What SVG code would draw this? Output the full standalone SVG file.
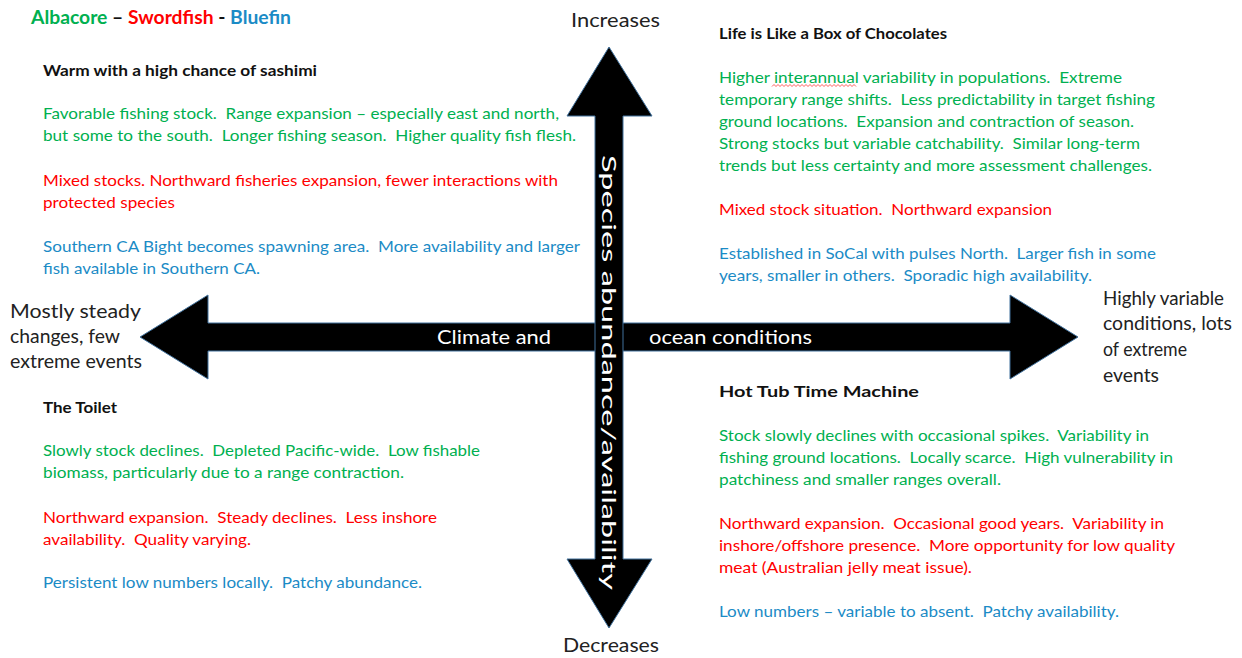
<svg xmlns="http://www.w3.org/2000/svg" width="1242" height="658" viewBox="0 0 1242 658">
  <style>
    text { font-family: Lato, "Liberation Sans", sans-serif; white-space: pre; }
    .body { font-size: 16px; }
    .head { font-size: 16px; font-weight: bold; fill: #111; }
    .g { fill: #00b050; }
    .r { fill: #ff0000; }
    .b { fill: #1b8bc6; }
    .axis { font-size: 19.5px; fill: #222; }
    .inner { font-size: 19.5px; fill: #fff; }
    .arrow { fill: #000; stroke: #41719c; stroke-width: 1; stroke-linejoin: miter; }
  </style>

  <rect width="1242" height="658" fill="#fff"/>

  <!-- legend: species colour key -->
  <g id="legend">
    <text x="31" y="24" font-size="18" font-weight="bold" textLength="260" lengthAdjust="spacingAndGlyphs"><tspan class="g">Albacore</tspan><tspan fill="#111"> – </tspan><tspan class="r">Swordfish</tspan><tspan fill="#111"> - </tspan><tspan class="b">Bluefin</tspan></text>
  </g>

  <!-- the two double-headed axis arrows -->
  <g id="axes">
    <polygon class="arrow" points="140,337 208,295 208,323 1010,323 1010,295 1078,337 1010,379 1010,351 208,351 208,379"/>
    <polygon class="arrow" points="609,47 652,116 623,116 623,559 652,559 609,628 567,559 595,559 595,116 567,116"/>
    <text class="inner" x="437" y="344" textLength="114" lengthAdjust="spacingAndGlyphs">Climate and</text>
    <text class="inner" x="649" y="344" textLength="163" lengthAdjust="spacingAndGlyphs">ocean conditions</text>
    <text class="inner" transform="translate(602,155) rotate(90)" x="0" y="0" textLength="435" lengthAdjust="spacingAndGlyphs">Species abundance/availability</text>
  </g>

  <!-- axis end labels -->
  <g id="label-increases">
    <text class="axis" x="571" y="27" textLength="89" lengthAdjust="spacingAndGlyphs">Increases</text>
  </g>
  <g id="label-decreases">
    <text class="axis" x="563" y="652" textLength="96" lengthAdjust="spacingAndGlyphs">Decreases</text>
  </g>
  <g id="label-steady">
    <text class="axis" x="10" y="318" textLength="131" lengthAdjust="spacingAndGlyphs">Mostly steady</text>
    <text class="axis" x="10" y="343" textLength="110" lengthAdjust="spacingAndGlyphs">changes, few</text>
    <text class="axis" x="10" y="368" textLength="132" lengthAdjust="spacingAndGlyphs">extreme events</text>
  </g>
  <g id="label-variable">
    <text class="axis" x="1103" y="305" textLength="121" lengthAdjust="spacingAndGlyphs">Highly variable</text>
    <text class="axis" x="1103" y="330" textLength="129" lengthAdjust="spacingAndGlyphs">conditions, lots</text>
    <text class="axis" x="1103" y="356" textLength="84" lengthAdjust="spacingAndGlyphs">of extreme</text>
    <text class="axis" x="1103" y="382" textLength="56" lengthAdjust="spacingAndGlyphs">events</text>
  </g>

  <!-- upper-left scenario -->
  <g id="scenario-sashimi">
    <text class="head" x="43" y="76" textLength="274" lengthAdjust="spacingAndGlyphs">Warm with a high chance of sashimi</text>
    <text class="body g" x="43" y="119" textLength="516" lengthAdjust="spacingAndGlyphs">Favorable fishing stock.  Range expansion – especially east and north,</text>
    <text class="body g" x="43" y="141" textLength="533" lengthAdjust="spacingAndGlyphs">but some to the south.  Longer fishing season.  Higher quality fish flesh.</text>
    <text class="body r" x="43" y="186" textLength="515" lengthAdjust="spacingAndGlyphs">Mixed stocks. Northward fisheries expansion, fewer interactions with</text>
    <text class="body r" x="43" y="208" textLength="132" lengthAdjust="spacingAndGlyphs">protected species</text>
    <text class="body b" x="43" y="252" textLength="537" lengthAdjust="spacingAndGlyphs">Southern CA Bight becomes spawning area.  More availability and larger</text>
    <text class="body b" x="43" y="274" textLength="217" lengthAdjust="spacingAndGlyphs">fish available in Southern CA.</text>
  </g>

  <!-- upper-right scenario -->
  <g id="scenario-chocolates">
    <text class="head" x="719" y="39" textLength="228" lengthAdjust="spacingAndGlyphs">Life is Like a Box of Chocolates</text>
    <text class="body g" x="719" y="83" textLength="403" lengthAdjust="spacingAndGlyphs">Higher interannual variability in populations.  Extreme</text>
    <path d="M772,86.5 l2,-2 l2,2 l2,-2 l2,2 l2,-2 l2,2 l2,-2 l2,2 l2,-2 l2,2 l2,-2 l2,2 l2,-2 l2,2 l2,-2 l2,2 l2,-2 l2,2 l2,-2 l2,2 l2,-2 l2,2 l2,-2 l2,2 l2,-2 l2,2 l2,-2 l2,2 l2,-2 l2,2 l2,-2 l2,2 l2,-2 l2,2 l2,-2 l2,2 l2,-2 l2,2 l2,-2 l2,2 l2,-2 l2,2" fill="none" stroke="#ff3333" stroke-width="0.8"/>
    <text class="body g" x="719" y="105" textLength="436" lengthAdjust="spacingAndGlyphs">temporary range shifts.  Less predictability in target fishing</text>
    <text class="body g" x="719" y="127" textLength="415" lengthAdjust="spacingAndGlyphs">ground locations.  Expansion and contraction of season.</text>
    <text class="body g" x="719" y="149" textLength="421" lengthAdjust="spacingAndGlyphs">Strong stocks but variable catchability.  Similar long-term</text>
    <text class="body g" x="719" y="171" textLength="433" lengthAdjust="spacingAndGlyphs">trends but less certainty and more assessment challenges.</text>
    <text class="body r" x="719" y="215" textLength="333" lengthAdjust="spacingAndGlyphs">Mixed stock situation.  Northward expansion</text>
    <text class="body b" x="719" y="259" textLength="437" lengthAdjust="spacingAndGlyphs">Established in SoCal with pulses North.  Larger fish in some</text>
    <text class="body b" x="719" y="281" textLength="373" lengthAdjust="spacingAndGlyphs">years, smaller in others.  Sporadic high availability.</text>
  </g>

  <!-- lower-left scenario -->
  <g id="scenario-toilet">
    <text class="head" x="43" y="413" textLength="74" lengthAdjust="spacingAndGlyphs">The Toilet</text>
    <text class="body g" x="43" y="456" textLength="437" lengthAdjust="spacingAndGlyphs">Slowly stock declines.  Depleted Pacific-wide.  Low fishable</text>
    <text class="body g" x="43" y="478" textLength="361" lengthAdjust="spacingAndGlyphs">biomass, particularly due to a range contraction.</text>
    <text class="body r" x="43" y="523" textLength="394" lengthAdjust="spacingAndGlyphs">Northward expansion.  Steady declines.  Less inshore</text>
    <text class="body r" x="43" y="545" textLength="208" lengthAdjust="spacingAndGlyphs">availability.  Quality varying.</text>
    <text class="body b" x="43" y="588" textLength="379" lengthAdjust="spacingAndGlyphs">Persistent low numbers locally.  Patchy abundance.</text>
  </g>

  <!-- lower-right scenario -->
  <g id="scenario-hot-tub">
    <text class="head" x="719" y="397" textLength="200" lengthAdjust="spacingAndGlyphs">Hot Tub Time Machine</text>
    <text class="body g" x="719" y="441" textLength="430" lengthAdjust="spacingAndGlyphs">Stock slowly declines with occasional spikes.  Variability in</text>
    <text class="body g" x="719" y="463" textLength="454" lengthAdjust="spacingAndGlyphs">fishing ground locations.  Locally scarce.  High vulnerability in</text>
    <text class="body g" x="719" y="485" textLength="282" lengthAdjust="spacingAndGlyphs">patchiness and smaller ranges overall.</text>
    <text class="body r" x="719" y="529" textLength="445" lengthAdjust="spacingAndGlyphs">Northward expansion.  Occasional good years.  Variability in</text>
    <text class="body r" x="719" y="551" textLength="456" lengthAdjust="spacingAndGlyphs">inshore/offshore presence.  More opportunity for low quality</text>
    <text class="body r" x="719" y="573" textLength="253" lengthAdjust="spacingAndGlyphs">meat (Australian jelly meat issue).</text>
    <text class="body b" x="719" y="617" textLength="400" lengthAdjust="spacingAndGlyphs">Low numbers – variable to absent.  Patchy availability.</text>
  </g>
</svg>
